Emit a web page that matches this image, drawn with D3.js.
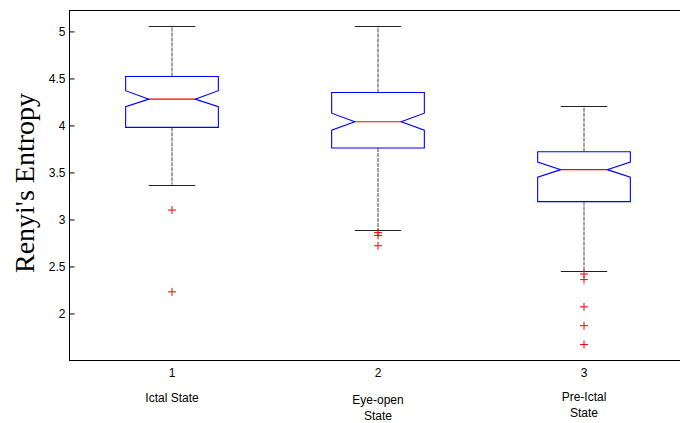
<!DOCTYPE html>
<html>
<head>
<meta charset="utf-8">
<script src="https://cdn.jsdelivr.net/npm/d3@7"></script>
<style>
  body { margin: 0; background: #fff; }
  svg { display: block; }
</style>
</head>
<body>
<svg id="chart" width="680" height="423"></svg>
<script>
// box statistics
const groups = [1, 2, 3];
const groupLabels = [["Ictal State"], ["Eye-open", "State"], ["Pre-Ictal", "State"]];
const q1 = [3.98, 3.76, 3.19];
const median = [4.28, 4.04, 3.53];
const q3 = [4.52, 4.35, 3.72];
const notchLo = [4.20, 3.95, 3.45];
const notchHi = [4.37, 4.13, 3.61];
const whiskLo = [3.37, 2.89, 2.45];
const whiskHi = [5.06, 5.06, 4.21];
const outliers = [
  [3.10, 2.23],
  [2.86, 2.83, 2.72],
  [2.42, 2.36, 2.07, 1.87, 1.67]
];
const yTicks = [2, 2.5, 3, 3.5, 4, 4.5, 5];

var svg = d3.select("#chart");
var mLeft = 69, mRight = 687, mTop = 10, mBottom = 360;

var x = d3.scaleLinear().domain([0.5, 3.5]).range([mLeft, mRight]);
var y = d3.scaleLinear().domain([1.505, 5.228]).range([mBottom, mTop]);

var boxHalf = (x(1) - x(0.5)) * 0.45;
var capHalf = boxHalf * 0.5;

// frame: left, top, bottom
svg.append("line").attr("x1", mLeft + 0.5).attr("x2", mLeft + 0.5).attr("y1", mTop).attr("y2", mBottom + 1)
  .attr("stroke", "#000");
svg.append("line").attr("x1", mLeft).attr("x2", 680).attr("y1", mTop + 0.5).attr("y2", mTop + 0.5)
  .attr("stroke", "#000");
svg.append("line").attr("x1", mLeft).attr("x2", 680).attr("y1", mBottom + 0.5).attr("y2", mBottom + 0.5)
  .attr("stroke", "#000");

// y axis, inward ticks
var yAxis = svg.append("g")
  .attr("transform", `translate(${mLeft + 0.5},0)`)
  .call(d3.axisLeft(y).tickValues(yTicks).tickSizeInner(-5).tickSizeOuter(0).tickPadding(4)
    .tickFormat(d3.format("")));
yAxis.select(".domain").remove();
yAxis.selectAll("text").attr("font-family", "Liberation Sans, Arial, sans-serif")
  .attr("font-size", 12).attr("fill", "#000");
yAxis.selectAll("line").attr("stroke", "#000");

// x tick numbers (no tick marks)
svg.append("g").selectAll("text").data(groups).join("text")
  .attr("x", d => x(d)).attr("y", 377)
  .attr("text-anchor", "middle")
  .attr("font-family", "Liberation Sans, Arial, sans-serif").attr("font-size", 12)
  .text(d => d);

// group names
var nameY = [402, 404, 401];
groups.forEach((g, i) => {
  svg.append("text")
    .attr("x", x(g)).attr("y", nameY[i])
    .attr("text-anchor", "middle")
    .attr("font-family", "Liberation Sans, Arial, sans-serif").attr("font-size", 12)
    .selectAll("tspan").data(groupLabels[i]).join("tspan")
    .attr("x", x(g)).attr("dy", (d, j) => j === 0 ? 0 : 16)
    .text(d => d);
});

// y title
svg.append("text")
  .attr("transform", "translate(34,183) rotate(-90)")
  .attr("text-anchor", "middle")
  .attr("font-family", "Liberation Serif, Times New Roman, serif").attr("font-size", 28)
  .text("Renyi's Entropy");

// boxes
var plot = svg.append("g");
groups.forEach((g, i) => {
  var cx = x(g);
  // whiskers
  plot.append("line").attr("x1", cx).attr("x2", cx).attr("y1", y(q3[i])).attr("y2", y(whiskHi[i]))
    .attr("stroke", "#444").attr("stroke-dasharray", "4,1");
  plot.append("line").attr("x1", cx).attr("x2", cx).attr("y1", y(q1[i])).attr("y2", y(whiskLo[i]))
    .attr("stroke", "#444").attr("stroke-dasharray", "4,1");
  [whiskHi[i], whiskLo[i]].forEach(v => {
    plot.append("line").attr("x1", cx - capHalf).attr("x2", cx + capHalf)
      .attr("y1", Math.round(y(v)) + 0.5).attr("y2", Math.round(y(v)) + 0.5)
      .attr("stroke", "#222");
  });
  // notched box
  var pts = [
    [cx - boxHalf, y(q3[i])], [cx + boxHalf, y(q3[i])],
    [cx + boxHalf, y(notchHi[i])], [cx + capHalf, y(median[i])],
    [cx + boxHalf, y(notchLo[i])], [cx + boxHalf, y(q1[i])],
    [cx - boxHalf, y(q1[i])], [cx - boxHalf, y(notchLo[i])],
    [cx - capHalf, y(median[i])], [cx - boxHalf, y(notchHi[i])]
  ];
  plot.append("path").attr("d", d3.line()(pts) + "Z")
    .attr("fill", "none").attr("stroke", "#0000ff").attr("stroke-width", 1.1);
  plot.append("line").attr("x1", cx - capHalf).attr("x2", cx + capHalf)
    .attr("y1", y(median[i])).attr("y2", y(median[i]))
    .attr("stroke", "#ff0000").attr("stroke-width", 1.1);
  // outliers
  outliers[i].forEach(v => {
    var py = y(v);
    plot.append("path")
      .attr("d", `M${cx - 4},${py}H${cx + 4}M${cx},${py - 4}V${py + 4}`)
      .attr("stroke", "#ff0000").attr("fill", "none");
  });
});
</script>
</body>
</html>
